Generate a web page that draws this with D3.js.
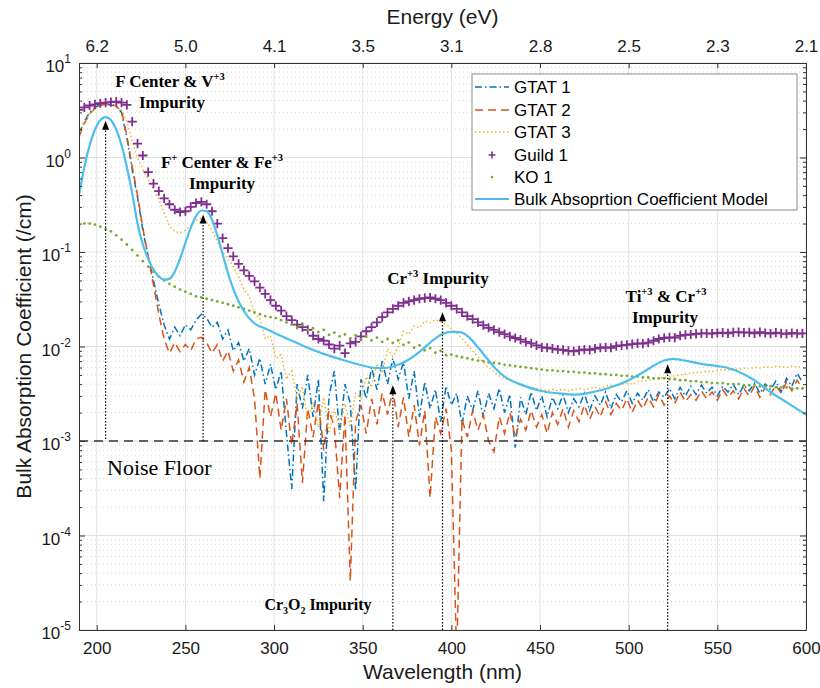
<!DOCTYPE html>
<html><head><meta charset="utf-8">
<script src="https://cdn.jsdelivr.net/npm/d3@7/dist/d3.min.js"></script>
<style>body{margin:0;background:#fff}svg{display:block}</style>
</head><body><svg id="chart" width="820" height="688"></svg>
<script>
// ---------- DATA ----------
const wavelength = [
190,193,196,199,202,205,208,211,214,217,
220,223,226,229,232,235,238,241,244,247,
250,253,256,259,262,265,268,271,274,277,
280,283,286,289,292,295,298,301,304,307,
310,313,316,319,322,325,328,331,334,337,
340,343,346,349,352,355,358,361,364,367,
370,373,376,379,382,385,388,391,394,397,
400,403,406,409,412,415,418,421,424,427,
430,433,436,439,442,445,448,451,454,457,
460,463,466,469,472,475,478,481,484,487,
490,493,496,499,502,505,508,511,514,517,
520,523,526,529,532,535,538,541,544,547,
550,553,556,559,562,565,568,571,574,577,
580,583,586,589,592,595,598];

const gtat1 = [
1.8,2.4,3.0,3.4,3.6,3.65,3.6,3.45,3.0,1.6,
0.75,0.38,0.17,0.09,0.05,0.028,0.017,0.012,0.016,0.013,
0.017,0.015,0.019,0.022,0.02,0.016,0.018,0.012,0.015,0.009,
0.011,0.007,0.0095,0.005,0.0075,0.004,0.0065,0.0035,0.0055,0.0012,
0.00031,0.004,0.0022,0.005,0.0018,0.0045,0.00023,0.003,0.0055,0.0012,
0.004,0.0025,0.0003,0.0045,0.0028,0.006,0.0035,0.007,0.004,0.0075,
0.0045,0.0068,0.0028,0.0055,0.0018,0.0042,0.0022,0.0035,0.0016,0.0038,
0.0024,0.0032,0.0015,0.003,0.0021,0.0034,0.0018,0.0032,0.0022,0.0036,
0.002,0.0031,0.00085,0.0029,0.0019,0.0033,0.0021,0.003,0.0018,0.0029,
0.0022,0.0031,0.002,0.0028,0.0023,0.0032,0.0021,0.003,0.0024,0.0033,
0.0022,0.0031,0.0026,0.0034,0.0025,0.0032,0.0027,0.0035,0.0026,0.0033,
0.0029,0.0036,0.0028,0.0037,0.003,0.0038,0.0031,0.0039,0.0032,0.0037,
0.003,0.0038,0.0033,0.004,0.0031,0.0039,0.0034,0.0041,0.0032,0.004,
0.0035,0.0043,0.0033,0.0046,0.0038,0.0052,0.0042];

const gtat2 = [
1.65,2.3,2.9,3.3,3.55,3.7,3.7,3.5,3.1,1.7,
0.8,0.4,0.18,0.09,0.045,0.022,0.012,0.0085,0.011,0.0088,
0.0105,0.009,0.012,0.0125,0.011,0.0085,0.0105,0.007,0.009,0.0055,
0.0072,0.0042,0.006,0.0028,0.0004,0.0035,0.0018,0.0032,0.0013,0.0028,
0.0009,0.0025,0.00036,0.0022,0.0011,0.0026,0.0008,0.0021,0.0014,0.00025,
0.0019,0.000033,0.0016,0.0024,0.0012,0.0028,0.0015,0.0032,0.0019,0.0035,
0.0014,0.0029,0.0011,0.0024,0.0009,0.0021,0.00025,0.0018,0.0012,0.0022,
0.0008,0.000005,0.0017,0.0011,0.0021,0.0013,0.0019,0.001,0.00077,0.0018,
0.0012,0.002,0.0011,0.0017,0.0013,0.0021,0.0014,0.0019,0.0012,0.002,
0.0015,0.0022,0.0014,0.0021,0.0016,0.0024,0.0017,0.0023,0.0018,0.0026,
0.0019,0.0025,0.0021,0.0028,0.002,0.0027,0.0022,0.0029,0.0023,0.0031,
0.0024,0.003,0.0025,0.0033,0.0026,0.0031,0.0027,0.0034,0.0028,0.0033,
0.0027,0.0035,0.0029,0.0034,0.0028,0.0036,0.003,0.0038,0.0029,0.0037,
0.0031,0.0039,0.0032,0.0042,0.0034,0.0044,0.0036];

const gtat3 = [
1.7,2.3,2.9,3.3,3.5,3.6,3.6,3.5,3.2,2.4,
1.5,1.0,0.75,0.58,0.47,0.36,0.26,0.19,0.165,0.16,
0.17,0.19,0.215,0.23,0.21,0.17,0.13,0.1,0.085,0.07,
0.055,0.04,0.034,0.022,0.02,0.012,0.013,0.0075,0.0082,0.0045,
0.0055,0.0028,0.0038,0.0017,0.0026,0.0014,0.0029,0.0012,0.0022,0.0013,
0.0025,0.0014,0.0032,0.0028,0.0048,0.0037,0.0066,0.0052,0.0095,0.0078,
0.0098,0.0145,0.0135,0.0165,0.0158,0.0185,0.0178,0.0192,0.0182,0.017,
0.0155,0.014,0.0122,0.0105,0.009,0.0078,0.0068,0.006,0.0054,0.0049,
0.0046,0.0044,0.0042,0.004,0.0038,0.0037,0.0036,0.0035,0.0034,0.0035,
0.0034,0.0035,0.0034,0.0035,0.0036,0.0035,0.0036,0.0037,0.0036,0.0038,
0.0039,0.0038,0.004,0.0041,0.004,0.0042,0.0043,0.0044,0.0045,0.0046,
0.0047,0.0048,0.0049,0.005,0.0051,0.0052,0.0053,0.0053,0.0055,0.0054,
0.0056,0.0057,0.0056,0.0058,0.0057,0.0059,0.0058,0.006,0.0059,0.0061,
0.006,0.0062,0.0061,0.006,0.0062,0.0061,0.006];

const guild1 = [
3.2,3.4,3.55,3.65,3.75,3.8,3.85,3.9,3.8,3.6,
2.4,1.4,1.05,0.7,0.53,0.44,0.37,0.32,0.28,0.265,
0.27,0.3,0.33,0.34,0.32,0.27,0.2,0.14,0.11,0.09,
0.075,0.064,0.056,0.049,0.042,0.036,0.031,0.027,0.024,0.021,
0.019,0.017,0.016,0.015,0.013,0.012,0.0115,0.0105,0.0095,0.0102,
0.0085,0.0108,0.0112,0.0128,0.0145,0.016,0.018,0.0205,0.023,0.025,
0.027,0.029,0.03,0.031,0.032,0.0325,0.033,0.032,0.031,0.029,
0.027,0.025,0.023,0.021,0.0195,0.018,0.0168,0.0158,0.015,0.0142,
0.0135,0.0128,0.0123,0.0118,0.0112,0.0108,0.0103,0.0098,0.0097,0.0095,
0.0093,0.0092,0.009,0.0089,0.0091,0.0093,0.0092,0.0095,0.0097,0.0098,
0.0097,0.0101,0.0103,0.0104,0.0106,0.0108,0.0107,0.011,0.0115,0.012,
0.0123,0.0125,0.0124,0.013,0.0133,0.0134,0.0136,0.0138,0.0138,0.0137,
0.0139,0.014,0.0138,0.0141,0.0142,0.014,0.0141,0.0138,0.0142,0.0139,
0.0137,0.014,0.0138,0.0136,0.0139,0.0137,0.0138];

const ko1 = [
0.19,0.2,0.2,0.195,0.185,0.175,0.165,0.15,0.135,0.12,
0.105,0.092,0.08,0.07,0.062,0.055,0.05,0.046,0.043,0.04,
0.038,0.036,0.034,0.033,0.032,0.031,0.03,0.029,0.028,0.027,
0.026,0.025,0.024,0.023,0.022,0.021,0.0205,0.02,0.019,0.018,
0.017,0.0158,0.0168,0.0149,0.0156,0.0142,0.015,0.0133,0.014,0.0128,
0.0134,0.0122,0.0131,0.0119,0.0127,0.0116,0.0124,0.0112,0.012,0.0109,
0.0116,0.0104,0.011,0.0097,0.0103,0.0091,0.0096,0.0086,0.009,0.0081,
0.0082,0.0079,0.0077,0.0075,0.0073,0.0071,0.007,0.0068,0.0067,0.0066,
0.0064,0.0063,0.0062,0.0061,0.006,0.0059,0.0058,0.0057,0.0056,0.0056,
0.0055,0.0055,0.0054,0.0054,0.0053,0.0053,0.0052,0.0052,0.0051,0.0051,
0.005,0.005,0.0049,0.0049,0.0048,0.0048,0.0047,0.0047,0.0046,0.0046,
0.0046,0.0045,0.0045,0.0044,0.0044,0.0043,0.0043,0.0042,0.0042,0.0041,
0.0041,0.0041,0.004,0.004,0.004,0.0039,0.0039,0.0039,0.0038,0.0038,
0.0038,0.0037,0.0037,0.0037,0.0036,0.0036,0.0036];

const modelWavelength = [190,193,196,199,202,205,208,211,214,217,220,223,226,229,232,235,238,241,244,247,250,253,256,259,262,265,268,271,275,280,285,290,295,300,310,320,330,340,350,355,360,365,370,375,380,385,390,395,400,405,410,415,420,425,430,440,450,460,470,480,490,500,510,515,520,525,530,540,550,555,560,570,580,590,600];
const modelValues = [0.40,0.79,1.35,1.98,2.49,2.68,2.49,1.98,1.35,0.79,0.42,0.2,0.12,0.085,0.065,0.055,0.051,0.052,0.062,0.085,0.125,0.18,0.24,0.275,0.27,0.22,0.15,0.095,0.052,0.03,0.021,0.017,0.0155,0.014,0.0115,0.0095,0.0081,0.0071,0.0063,0.006,0.0059,0.006,0.0064,0.0071,0.0082,0.0098,0.0118,0.0136,0.0143,0.0142,0.0125,0.0098,0.0075,0.0058,0.0048,0.0039,0.0034,0.0032,0.0031,0.0033,0.0037,0.0044,0.0056,0.0064,0.0071,0.0074,0.0072,0.0066,0.0062,0.006,0.0056,0.0045,0.0033,0.0025,0.0019];

const xTickValues = [200,250,300,350,400,450,500,550,600];
const energyLabels = ["6.2","5.0","4.1","3.5","3.1","2.8","2.5","2.3","2.1"];
const yDecades = [1e1,1e0,1e-1,1e-2,1e-3,1e-4,1e-5];
const yExponents = ["1","0","-1","-2","-3","-4","-5"];
const noiseFloor = 1e-3;
const arrowWavelength = [205,260,367,395,522];
const arrowFrom = [1.05e-3,1.0e-3,1e-5,1e-5,1e-5];
const arrowTo = [2.45,0.25,0.0039,0.023,0.0065];
const seriesNames = ["GTAT 1","GTAT 2","GTAT 3","Guild 1","KO 1","Bulk Absoprtion Coefficient Model"];

// ---------- CHART ----------
const svg = d3.select("#chart");
const L = 79, R = 806, T = 63, B = 630;
const x = d3.scaleLinear().domain([190,600]).range([L,R]);
const y = d3.scaleLog().domain([1e-5,10]).range([B,T]);
const SANS = "'Liberation Sans', Arial, Helvetica, sans-serif";
const SERIF = "'Liberation Serif', 'Times New Roman', serif";
const C = {g1:"#0072BD", g2:"#D95319", g3:"#EDB120", gu:"#7E2F8E", ko:"#77AC30", mo:"#4DBEEE"};

const defs = svg.append("defs");
defs.append("clipPath").attr("id","clip").append("rect")
  .attr("x",L).attr("y",T).attr("width",R-L).attr("height",B-T);

svg.append("rect").attr("x",L).attr("y",T).attr("width",R-L).attr("height",B-T).attr("fill","#fff");

// grid
const grid = svg.append("g");
const minorVals = y.ticks().filter(v => !yDecades.some(d => Math.abs(d - v) / d < 1e-6));
grid.selectAll(".hmin").data(minorVals).join("line")
  .attr("x1",L).attr("x2",R).attr("y1",d=>y(d)).attr("y2",d=>y(d))
  .attr("stroke","#cfcfcf").attr("stroke-width",0.8).attr("stroke-dasharray","1,3");
grid.selectAll(".hmaj").data(yDecades).join("line")
  .attr("x1",L).attr("x2",R).attr("y1",d=>y(d)).attr("y2",d=>y(d))
  .attr("stroke","#e2e2e2").attr("stroke-width",1);
grid.selectAll(".vmaj").data(xTickValues).join("line")
  .attr("x1",d=>x(d)).attr("x2",d=>x(d)).attr("y1",T).attr("y2",B)
  .attr("stroke","#e2e2e2").attr("stroke-width",1);

// data
const plot = svg.append("g").attr("clip-path","url(#clip)");
const pts = arr => wavelength.map((w,i)=>({w, v:arr[i]})).filter(d => d.v != null);
const line = d3.line().x(d=>x(d.w)).y(d=>y(Math.max(d.v,1e-7)));

plot.append("path").datum(pts(gtat1)).attr("d",line).attr("fill","none")
  .attr("stroke",C.g1).attr("stroke-width",1.5).attr("stroke-dasharray","7,3,1.5,3");
plot.append("path").datum(pts(gtat2)).attr("d",line).attr("fill","none")
  .attr("stroke",C.g2).attr("stroke-width",1.5).attr("stroke-dasharray","8,5");
plot.append("path").datum(pts(gtat3)).attr("d",line).attr("fill","none")
  .attr("stroke",C.g3).attr("stroke-width",1.4).attr("stroke-dasharray","1.5,2.5");

const plusPath = s => `M${-s},0H${s}M0,${-s}V${s}`;
plot.append("g").selectAll("path").data(pts(guild1)).join("path")
  .attr("transform",d=>`translate(${x(d.w)},${y(d.v)})`)
  .attr("d",plusPath(4.6)).attr("stroke",C.gu).attr("stroke-width",1.8).attr("fill","none");
plot.append("g").selectAll("circle").data(pts(ko1)).join("circle")
  .attr("cx",d=>x(d.w)).attr("cy",d=>y(d.v)).attr("r",1.4).attr("fill",C.ko);

const modelPts = modelWavelength.map((w,i)=>({w, v:modelValues[i]}));
plot.append("path").datum(modelPts)
  .attr("d", d3.line().x(d=>x(d.w)).y(d=>y(d.v)).curve(d3.curveMonotoneX))
  .attr("fill","none").attr("stroke",C.mo).attr("stroke-width",2.2);

// noise floor
svg.append("line").attr("x1",L).attr("x2",R).attr("y1",y(noiseFloor)).attr("y2",y(noiseFloor))
  .attr("stroke","#333").attr("stroke-width",1.3).attr("stroke-dasharray","9,6");

// arrows
const arrows = svg.append("g");
arrowWavelength.forEach((w,i) => {
  const ax = x(w), y0 = y(arrowFrom[i]), y1 = y(arrowTo[i]);
  arrows.append("line").attr("x1",ax).attr("x2",ax).attr("y1",y0).attr("y2",y1+8)
    .attr("stroke","#000").attr("stroke-width",1.2).attr("stroke-dasharray","1.5,1.8");
  arrows.append("path").attr("d",`M${ax},${y1}L${ax-3.5},${y1+9}L${ax+3.5},${y1+9}Z`).attr("fill","#000");
});

// axes
const axStroke = "#333";
function styleAxis(g){
  g.select(".domain").attr("stroke",axStroke);
  g.selectAll(".tick line").attr("stroke",axStroke);
  g.selectAll(".tick text").attr("fill","#1a1a1a").attr("font-family",SANS).attr("font-size",17);
}
svg.append("g").attr("transform",`translate(0,${B})`)
  .call(d3.axisBottom(x).tickValues(xTickValues).tickSize(-5).tickPadding(12).tickSizeOuter(0))
  .call(styleAxis);
svg.append("g").attr("transform",`translate(0,${T})`)
  .call(d3.axisTop(x).tickValues(xTickValues).tickSize(-5).tickPadding(11).tickSizeOuter(0)
        .tickFormat((d,i)=>energyLabels[i]))
  .call(styleAxis);
svg.append("g").attr("transform",`translate(${L},0)`)
  .call(d3.axisLeft(y).tickValues(yDecades).tickSize(-6).tickFormat("").tickSizeOuter(0))
  .call(styleAxis);
svg.append("g").attr("transform",`translate(${L},0)`)
  .call(d3.axisLeft(y).tickValues(minorVals).tickSize(-3).tickFormat("").tickSizeOuter(0))
  .call(g=>g.select(".domain").remove()).call(styleAxis);
svg.append("g").attr("transform",`translate(${R},0)`)
  .call(d3.axisRight(y).tickValues(yDecades).tickSize(-6).tickFormat("").tickSizeOuter(0))
  .call(styleAxis);
svg.append("g").attr("transform",`translate(${R},0)`)
  .call(d3.axisRight(y).tickValues(minorVals).tickSize(-3).tickFormat("").tickSizeOuter(0))
  .call(g=>g.select(".domain").remove()).call(styleAxis);

// y tick labels with superscripts
yDecades.forEach((d,i) => {
  const t = svg.append("text").attr("x",L-8).attr("y",y(d)+9).attr("text-anchor","end")
    .attr("font-family",SANS).attr("font-size",17).attr("fill","#1a1a1a");
  t.append("tspan").text("10");
  t.append("tspan").text(yExponents[i]).attr("font-size",12).attr("dy",-9);
});

// axis titles
svg.append("text").attr("x",(L+R)/2).attr("y",24).attr("text-anchor","middle")
  .attr("font-family",SANS).attr("font-size",21).attr("fill","#1a1a1a").text("Energy (eV)");
svg.append("text").attr("x",(L+R)/2).attr("y",679).attr("text-anchor","middle")
  .attr("font-family",SANS).attr("font-size",21).attr("fill","#1a1a1a").text("Wavelength (nm)");
svg.append("text").attr("transform",`translate(31,${(T+B)/2}) rotate(-90)`).attr("text-anchor","middle")
  .attr("font-family",SANS).attr("font-size",21).attr("fill","#1a1a1a").text("Bulk Absorption Coefficient (/cm)");

// annotations
function rich(xp, yp, parts, fs, weight, anchor){
  const t = svg.append("text").attr("x",xp).attr("y",yp).attr("text-anchor",anchor||"middle")
    .attr("font-family",SERIF).attr("font-size",fs).attr("font-weight",weight||"bold").attr("fill","#000");
  let shift = 0;
  parts.forEach(p => {
    const target = p.sup ? -0.42*fs : p.sub ? 0.22*fs : 0;
    const ts = t.append("tspan").text(p.t).attr("dy", target - shift);
    if (p.sup || p.sub) ts.attr("font-size", fs*0.62);
    shift = target;
  });
}
rich(170, 87, [{t:"F Center & V"},{t:"+3",sup:true}], 17);
rich(172, 108, [{t:"Impurity"}], 17);
rich(222, 168, [{t:"F"},{t:"+",sup:true},{t:" Center & Fe"},{t:"+3",sup:true}], 17);
rich(222, 189, [{t:"Impurity"}], 17);
rich(438, 284, [{t:"Cr"},{t:"+3",sup:true},{t:" Impurity"}], 17);
rich(666, 302, [{t:"Ti"},{t:"+3",sup:true},{t:" & Cr"},{t:"+3",sup:true}], 17);
rich(665, 323, [{t:"Impurity"}], 17);
rich(318, 610, [{t:"Cr"},{t:"3",sub:true},{t:"O"},{t:"2",sub:true},{t:" Impurity"}], 16);
rich(107, 475, [{t:"Noise Floor"}], 22, "normal", "start");

// legend
const lg = svg.append("g");
lg.append("rect").attr("x",472).attr("y",74).attr("width",325).attr("height",136)
  .attr("fill","#fff").attr("stroke","#8a8a8a").attr("stroke-width",1);
const rowsY = [87,110,132,155,177,199];
const sampleX0 = 475, sampleX1 = 509;
const styles = [
  {c:C.g1, w:1.5, dash:"7,3,1.5,3"},
  {c:C.g2, w:1.5, dash:"8,5"},
  {c:C.g3, w:1.4, dash:"1.5,2.5"},
  {c:C.gu, marker:"plus"},
  {c:C.ko, marker:"dot"},
  {c:C.mo, w:2.2, dash:null}
];
seriesNames.forEach((name,i) => {
  const s = styles[i], yy = rowsY[i];
  if (s.marker === "plus") {
    lg.append("path").attr("transform",`translate(${(sampleX0+sampleX1)/2},${yy})`)
      .attr("d",plusPath(3.5)).attr("stroke",s.c).attr("stroke-width",1.6);
  } else if (s.marker === "dot") {
    lg.append("circle").attr("cx",(sampleX0+sampleX1)/2).attr("cy",yy).attr("r",1.3).attr("fill",s.c);
  } else {
    lg.append("line").attr("x1",sampleX0).attr("x2",sampleX1).attr("y1",yy).attr("y2",yy)
      .attr("stroke",s.c).attr("stroke-width",s.w).attr("stroke-dasharray",s.dash);
  }
  lg.append("text").attr("x",514).attr("y",yy+6).attr("font-family",SANS).attr("font-size",17)
    .attr("fill","#000").text(name);
});
</script>
</body></html>
